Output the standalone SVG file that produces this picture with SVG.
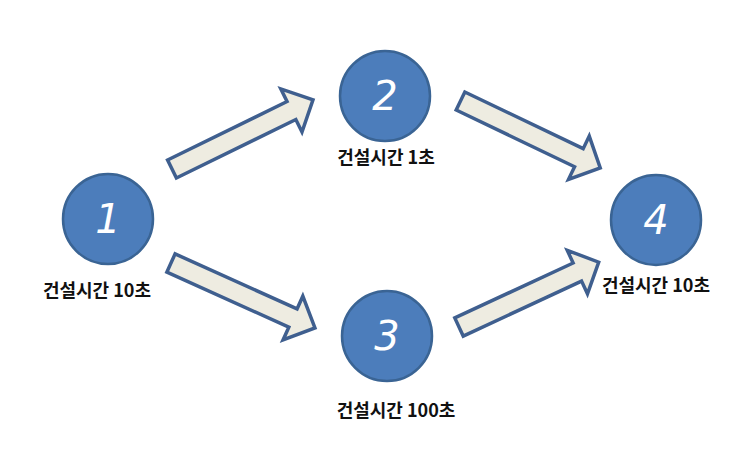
<svg xmlns="http://www.w3.org/2000/svg" width="748" height="452" viewBox="0 0 748 452">
<defs>
<style>
.node circle{fill:#4c7dbb;stroke:#3a6494;stroke-width:2.5}
.num{font-family:"DejaVu Sans",sans-serif;font-style:italic;font-size:40px;fill:#ffffff;text-anchor:middle}
.lbl{font-family:"Noto Sans CJK KR","Noto Sans",sans-serif;font-weight:bold;font-size:18px;fill:#111111;text-anchor:middle}
.arrow{fill:#eeece1;stroke:#3f5f8f;stroke-width:3.5;stroke-linejoin:miter}
</style>
<polygon id="blk" points="0,-10 133,-10 133,-24 157,0 133,24 133,10 0,10"/>
</defs>
<rect width="748" height="452" fill="#ffffff"/>
<g id="connectors">
<use href="#blk" class="arrow" transform="translate(172,169) rotate(-26.1)"/>
<use href="#blk" class="arrow" transform="translate(171,263) rotate(24.3) scale(1.006,1)"/>
<use href="#blk" class="arrow" transform="translate(460.5,101) rotate(25.6) scale(0.987,1)"/>
<use href="#blk" class="arrow" transform="translate(459,327) rotate(-24.9) scale(0.981,1)"/>
</g>
<g id="node1" class="node">
<circle cx="108" cy="219" r="45"/>
<text class="num" x="108" y="233">1</text>
<text class="lbl" x="97" y="297">건설시간 10초</text>
</g>
<g id="node2" class="node">
<circle cx="385" cy="96" r="45"/>
<text class="num" x="385" y="110">2</text>
<text class="lbl" x="386" y="164">건설시간 1초</text>
</g>
<g id="node3" class="node">
<circle cx="387" cy="336" r="45"/>
<text class="num" x="387" y="350">3</text>
<text class="lbl" x="396" y="417">건설시간 100초</text>
</g>
<g id="node4" class="node">
<circle cx="656" cy="220" r="45"/>
<text class="num" x="656" y="234">4</text>
<text class="lbl" x="656" y="292">건설시간 10초</text>
</g>
</svg>
